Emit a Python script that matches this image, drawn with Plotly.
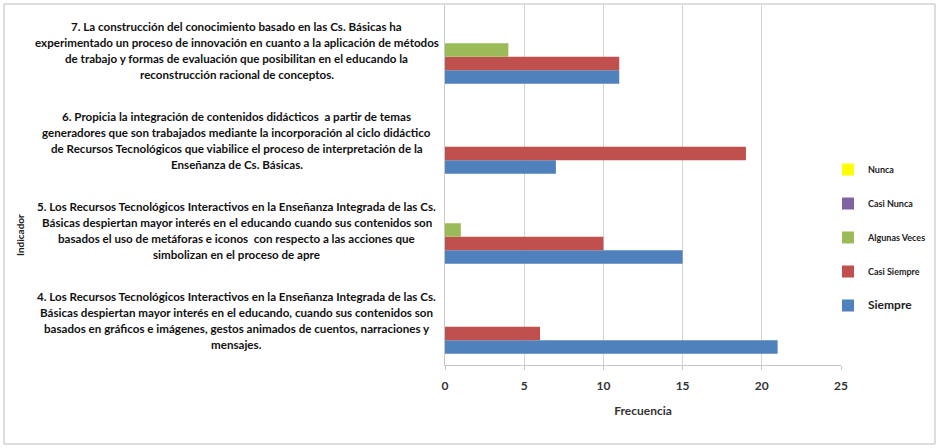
import plotly.graph_objects as go

categories = ["4", "5", "6", "7"]
series_names = ["Siempre", "Casi Siempre", "Algunas Veces", "Casi Nunca", "Nunca"]
siempre = [21, 15, 7, 11]
casi_siempre = [6, 10, 19, 11]
algunas_veces = [0, 1, 0, 4]
casi_nunca = [0, 0, 0, 0]
nunca = [0, 0, 0, 0]
series_values = [siempre, casi_siempre, algunas_veces, casi_nunca, nunca]
colors = ["#4F81BD", "#C0504D", "#9BBB59", "#8064A2", "#FFFF00"]

category_labels = [
    ["4. Los Recursos Tecnológicos Interactivos en la Enseñanza Integrada de las Cs.",
     "Básicas despiertan mayor interés en el educando, cuando sus contenidos son",
     "basados en gráficos e imágenes, gestos animados de cuentos, narraciones y",
     "mensajes."],
    ["5. Los Recursos Tecnológicos Interactivos en la Enseñanza Integrada de las Cs.",
     "Básicas despiertan mayor interés en el educando cuando sus contenidos son",
     "basados el uso de metáforas e iconos  con respecto a las acciones que",
     "simbolizan en el proceso de apre"],
    ["6. Propicia la integración de contenidos didácticos  a partir de temas",
     "generadores que son trabajados mediante la incorporación al ciclo didáctico",
     "de Recursos Tecnológicos que viabilice el proceso de interpretación de la",
     "Enseñanza de Cs. Básicas."],
    ["7. La construcción del conocimiento basado en las Cs. Básicas ha",
     "experimentado un proceso de innovación en cuanto a la aplicación de métodos",
     "de trabajo y formas de evaluación que posibilitan en el educando la",
     "reconstrucción racional de conceptos."],
]
x_ticks = [0, 5, 10, 15, 20, 25]

fig = go.Figure()
n_series = len(series_names)
for k, (name, vals, col) in enumerate(zip(series_names, series_values, colors)):
    label = name
    if name == "Siempre":
        label = '<span style="font-size:12px">Siempre</span>'
    fig.add_trace(go.Bar(y=categories, x=vals, name=label, orientation="h",
                         marker=dict(color=col, line=dict(width=0)),
                         legendgroup=name, legendrank=n_series - k))

L, R, T, B = 445, 99, 5, 83
W, H = 940, 448
pw = W - L - R
ph = H - T - B

fig.update_layout(
    width=W, height=H,
    margin=dict(l=L, r=R, t=T, b=B, autoexpand=False),
    paper_bgcolor="white", plot_bgcolor="white",
    barmode="group", bargap=0.25, bargroupgap=0,
    font=dict(family="Lato", size=11, color="#222"),
    showlegend=True,
    legend=dict(traceorder="grouped", x=(828 - L) / pw, y=(365 - 155) / ph,
                xanchor="left", yanchor="top", tracegroupgap=15,
                font=dict(size=9, weight="bold", color="#222"),
                itemwidth=30, bgcolor="rgba(0,0,0,0)"),
    xaxis=dict(range=[0, 25], tickvals=x_ticks, showgrid=True, gridcolor="#d4d4d4",
               gridwidth=1, zeroline=False, showline=True, linecolor="#c8c8c8",
               ticks="outside", ticklen=4, tickcolor="#c8c8c8", ticklabelstandoff=6,
               tickfont=dict(size=12, weight="bold", color="#333"),
               title=dict(text="Frecuencia", font=dict(size=12, weight="bold", color="#333"),
                          standoff=14)),
    yaxis=dict(type="category", categoryorder="array", categoryarray=categories,
               showticklabels=False, showgrid=False, showline=True, linecolor="#c8c8c8",
               ticks="", range=[-0.5, 3.5]),
)

cx = (237 - L) / pw
spacing = 16
for idx, lines in enumerate(category_labels):
    n = len(lines)
    for i, line in enumerate(lines):
        fig.add_annotation(x=cx, xref="paper", y=idx, yref="y", text=line,
                           showarrow=False, xanchor="center", yanchor="middle",
                           yshift=((n - 1) / 2 - i) * spacing,
                           font=dict(family="Lato", size=11.6, weight="bold", color="#111"))

fig.add_annotation(x=(12 - L) / pw, xref="paper", y=(365 - 235) / ph, yref="paper",
                   text="Indicador", textangle=-90, showarrow=False,
                   font=dict(family="Lato", size=10, weight="bold", color="#222"))

fig.add_shape(type="rect", xref="paper", yref="paper",
              x0=(4 - L) / pw, x1=(935 - L) / pw, y0=(365 - 444) / ph, y1=(365 - 4) / ph,
              line=dict(color="#bbbbbb", width=1), fillcolor="rgba(0,0,0,0)", layer="below")

fig.write_html("out.html")
